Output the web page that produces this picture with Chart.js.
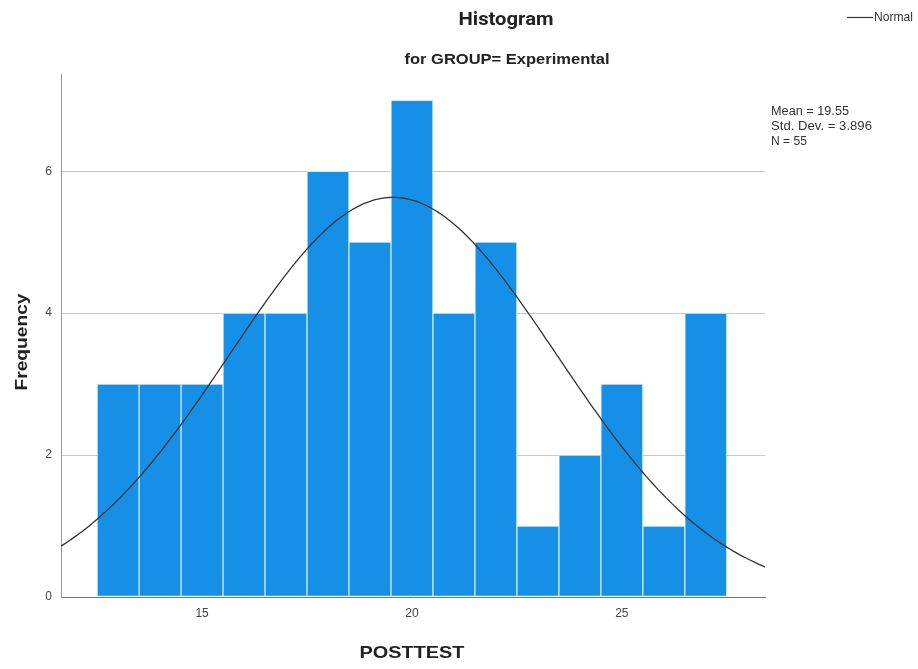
<!DOCTYPE html>
<html>
<head>
<meta charset="utf-8">
<script src="https://cdn.jsdelivr.net/npm/chart.js@4/dist/chart.umd.min.js"></script>
<style>
  html, body { margin: 0; padding: 0; background: #ffffff; }
  #wrap { width: 918px; height: 669px; }
</style>
</head>
<body>
<div id="wrap"><canvas id="chart" width="918" height="669"></canvas></div>
<script>
// POSTTEST scores, experimental group: one bar per score value
const binCenters = [13, 14, 15, 16, 17, 18, 19, 20, 21, 22, 23, 24, 25, 26, 27];
const frequencies = [3, 3, 3, 4, 4, 6, 5, 7, 4, 5, 1, 2, 3, 1, 4];

// Tick labels on each axis
const xTicks = [15, 20, 25];
const yTicks = [0, 2, 4, 6];

// Summary statistics shown beside the plot
const statMean = 19.55;
const statSD = 3.896;
const statN = 55;
const binWidth = 1;

// Axis ranges
const xMin = 11.64, xMax = 28.41;
const yMin = 0, yMax = 7.37;

// Fitted normal curve, scaled to counts per bin
const normalCurve = [];
for (let i = 0; i <= 200; i++) {
  const x = xMin + (xMax - xMin) * i / 200;
  const z = (x - statMean) / statSD;
  const y = statN * binWidth / (statSD * Math.sqrt(2 * Math.PI)) * Math.exp(-0.5 * z * z);
  normalCurve.push({ x, y });
}

const bars = binCenters.map((c, i) => ({ x: c, y: frequencies[i] }));

const narrowFont = "'Liberation Sans Narrow', 'Arial Narrow', 'Liberation Sans', Arial, sans-serif";
const mainFont = "'Liberation Sans', Arial, sans-serif";

// Draws text squeezed/stretched to a given width
function fitText(ctx, text, x, y, font, width, align, color) {
  ctx.save();
  ctx.font = font;
  ctx.fillStyle = color || '#222';
  ctx.textBaseline = 'middle';
  ctx.textAlign = align || 'center';
  const w = ctx.measureText(text).width;
  const s = width / w;
  ctx.translate(x, y);
  ctx.scale(s, 1);
  ctx.fillText(text, 0, 0);
  ctx.restore();
}

const annotations = {
  id: 'annotations',
  afterDraw(chart) {
    const ctx = chart.ctx;
    fitText(ctx, 'Histogram', 506, 20, 'bold 18px Roboto, ' + mainFont, 95, 'center', '#222');
    fitText(ctx, 'for GROUP= Experimental', 507, 60, 'bold 14px ' + mainFont, 205, 'center', '#222');

    // legend entry for the curve
    ctx.save();
    ctx.strokeStyle = '#333';
    ctx.lineWidth = 1.2;
    ctx.beginPath();
    ctx.moveTo(847, 17.5);
    ctx.lineTo(873, 17.5);
    ctx.stroke();
    ctx.restore();
    fitText(ctx, 'Normal', 874, 18, '12px ' + narrowFont, 39, 'left', '#333');

    fitText(ctx, 'Mean = ' + statMean.toFixed(2), 771, 111, '13px ' + narrowFont, 78, 'left', '#333');
    fitText(ctx, 'Std. Dev. = ' + statSD.toFixed(3), 771, 126, '13px ' + narrowFont, 101, 'left', '#333');
    fitText(ctx, 'N = ' + statN, 771, 141, '13px ' + narrowFont, 36, 'left', '#333');

    fitText(ctx, 'POSTTEST', 412, 653, 'bold 17px ' + mainFont, 105, 'center', '#222');

    ctx.save();
    ctx.translate(22, 342);
    ctx.rotate(-Math.PI / 2);
    fitText(ctx, 'Frequency', 0, 0, 'bold 17px ' + mainFont, 97, 'center', '#222');
    ctx.restore();
  }
};

new Chart(document.getElementById('chart'), {
  data: {
    datasets: [
      {
        type: 'line',
        label: 'Normal',
        data: normalCurve,
        borderColor: '#333333',
        borderWidth: 1.3,
        pointRadius: 0,
        tension: 0,
        order: 0
      },
      {
        type: 'bar',
        label: 'POSTTEST',
        data: bars,
        backgroundColor: '#168fe6',
        borderColor: '#cdeeff',
        borderWidth: 1,
        borderSkipped: false,
        barPercentage: 1,
        categoryPercentage: 1,
        grouped: false,
        order: 1
      }
    ]
  },
  options: {
    responsive: false,
    devicePixelRatio: 1,
    animation: false,
    layout: { padding: { top: 74, right: 153, left: 0, bottom: 0 } },
    plugins: {
      legend: { display: false },
      tooltip: { enabled: false },
      title: { display: false }
    },
    scales: {
      x: {
        type: 'linear',
        offset: false,
        min: xMin,
        max: xMax,
        afterFit: (s) => { s.height = 72; },
        afterBuildTicks: (s) => { s.ticks = xTicks.map(v => ({ value: v })); },
        grid: { display: false, drawTicks: false, offset: false },
        border: { display: true, color: '#777', width: 1 },
        ticks: {
          padding: 9,
          color: '#444',
          font: { family: mainFont, size: 12 },
          maxRotation: 0
        }
      },
      y: {
        type: 'linear',
        min: yMin,
        max: yMax,
        afterFit: (s) => { s.width = 61; },
        afterBuildTicks: (s) => { s.ticks = yTicks.map(v => ({ value: v })); },
        grid: {
          drawTicks: false,
          color: (c) => (c.tick && c.tick.value === 0) ? 'rgba(0,0,0,0)' : '#c9c9c9',
          lineWidth: 1
        },
        border: { display: true, color: '#999', width: 1 },
        ticks: {
          padding: 9,
          color: '#444',
          font: { family: mainFont, size: 12 }
        }
      }
    }
  },
  plugins: [annotations]
});
</script>
</body>
</html>
